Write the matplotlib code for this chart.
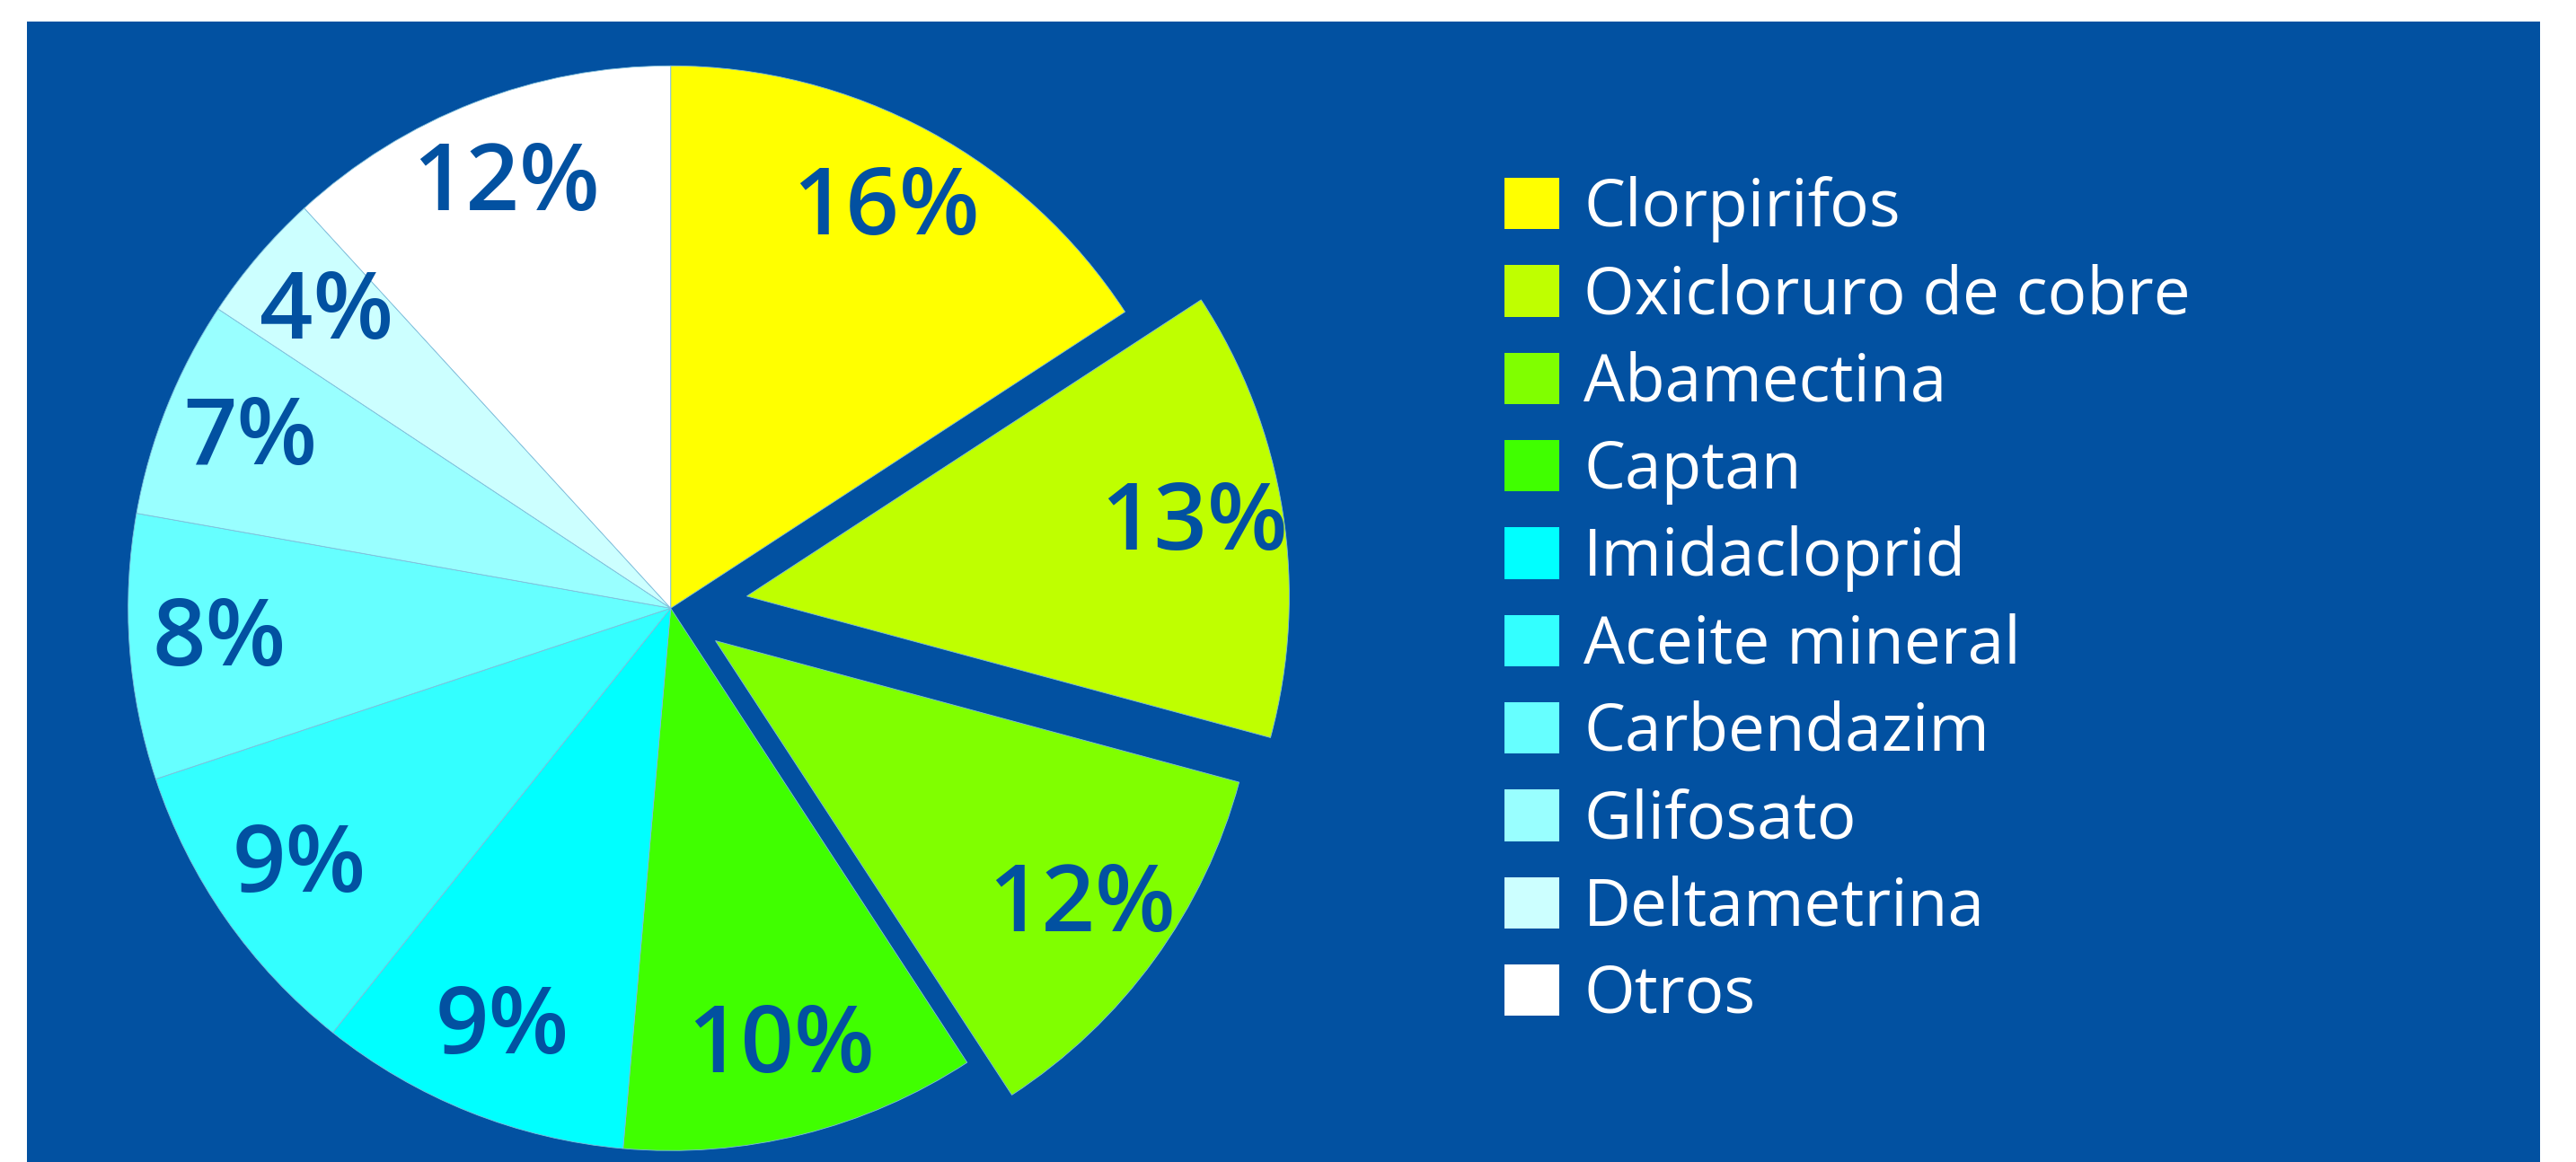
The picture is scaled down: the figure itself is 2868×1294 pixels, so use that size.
import matplotlib
matplotlib.use("Agg")
import numpy as np
import matplotlib.pyplot as plt
from matplotlib.patches import Rectangle, Patch

plt.rcParams['font.family'] = ['Open Sans', 'DejaVu Sans']

### datos ###
productos = ["Clorpirifos", "Oxicloruro de cobre", "Abamectina", "Captan",
             "Imidacloprid", "Aceite mineral", "Carbendazim", "Glifosato",
             "Deltametrina", "Otros"]
porcentajes = [15.8, 13.4, 11.6, 10.6, 9.3, 9.2, 7.9, 6.5, 3.9, 11.8]
etiquetas = ["16%", "13%", "12%", "10%", "9%", "9%", "8%", "7%", "4%", "12%"]
colores = ["#ffff00", "#bfff00", "#80ff00", "#40ff00", "#00ffff",
           "#33ffff", "#66ffff", "#99ffff", "#ccffff", "#ffffff"]
separacion = [0, 0.142, 0.102, 0, 0, 0, 0, 0, 0, 0]

AZUL = "#0251a1"
W, H = 2868, 1294

fig = plt.figure(figsize=(W / 100, H / 100), dpi=100)
fig.patch.set_facecolor("white")

# fondo azul
fig.add_artist(Rectangle((30 / W, 0), (2828 - 30) / W, (H - 24) / H,
                         transform=fig.transFigure, facecolor=AZUL,
                         edgecolor="none", zorder=0))

# eje de la torta : 1 unidad = radio
R = 604.0
cx, cy = 746.7, 677.3
half = 720.0
ax = fig.add_axes([(cx - half) / W, (H - cy - half) / H, 2 * half / W, 2 * half / H])
ax.patch.set_alpha(0)

it = iter(etiquetas)
wedges, textos, pcts = ax.pie(porcentajes, colors=colores, explode=separacion,
                              startangle=90, counterclock=False,
                              autopct=lambda p: next(it), pctdistance=0.835,
                              wedgeprops=dict(edgecolor="#7fbfdc", linewidth=0.6),
                              textprops=dict(color=AZUL, fontsize=75,
                                             fontweight="semibold"))
ax.set_xlim(-half / R, half / R)
ax.set_ylim(-half / R, half / R)
ax.set_aspect("equal")
ax.axis("off")

# leyenda
poignees = [Patch(facecolor=c, edgecolor="none") for c in colores]
fig.legend(poignees, productos, loc="upper left",
           bbox_to_anchor=(1675 / W, 1 - 196 / H), frameon=False,
           fontsize=52.5, labelcolor="white", handlelength=0.83,
           handleheight=0.83, handletextpad=0.38, labelspacing=0.32,
           borderpad=0, borderaxespad=0)

fig.savefig("out.png", dpi=100, facecolor="white")
